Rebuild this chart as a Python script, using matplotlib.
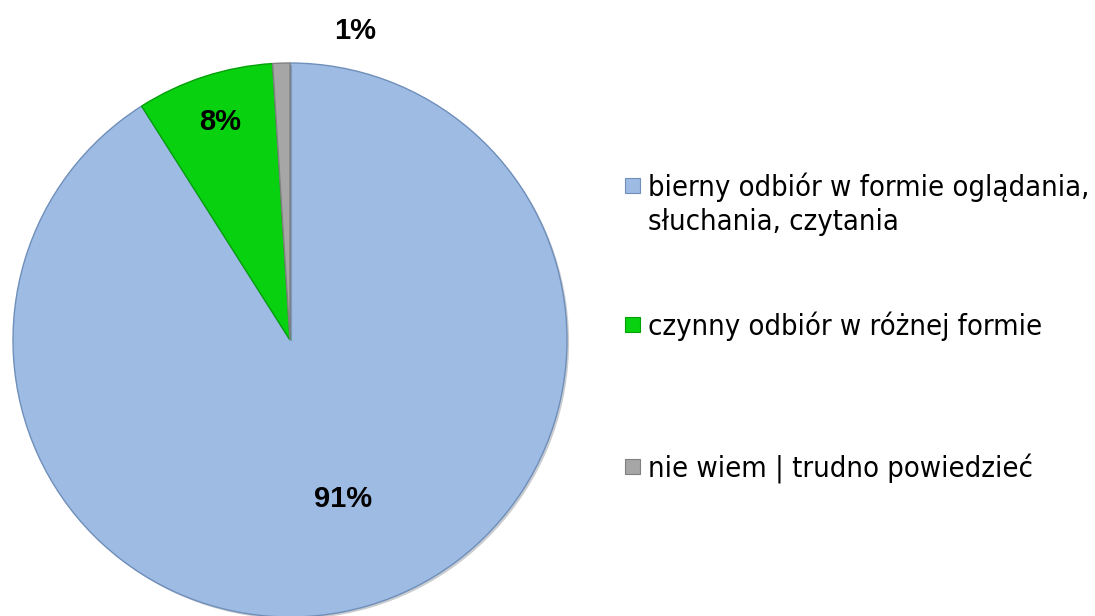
import matplotlib
matplotlib.use("Agg")
import matplotlib.pyplot as plt
import numpy as np
from matplotlib.patches import Rectangle
import matplotlib.patheffects as pe

# ---------------- data ----------------
categories = [
    "bierny odbiór w formie oglądania,\nsłuchania, czytania",
    "czynny odbiór w różnej formie",
    "nie wiem | trudno powiedzieć",
]
values = [91, 8, 1]
pct_labels = ["91%", "8%", "1%"]

# ---------------- style ----------------
colors = ["#9DBBE3", "#08D20F", "#A6A6A6"]
edge_colors = ["#6F8FBA", "#04A00A", "#808080"]
label_pos = [(0.604, 2.3), (0.826, -0.2), (1.14, -13.7)]  # (distance, angle shift)

W, H, DPI = 1095, 616, 100
fig = plt.figure(figsize=(W / DPI, H / DPI), dpi=DPI)
fig.patch.set_facecolor("white")

cx, cy, R = 290, 340, 277
ax = fig.add_axes([(cx - R) / W, (H - cy - R) / H, 2 * R / W, 2 * R / H])
wedges, _ = ax.pie(values, colors=colors, startangle=90, counterclock=False,
                   radius=1.0, wedgeprops=dict(linewidth=1.0))
for w, ec in zip(wedges, edge_colors):
    w.set_edgecolor(ec)
    w.set_path_effects([pe.SimplePatchShadow(offset=(1.5, -1.5), alpha=0.25),
                        pe.Normal()])
ax.set_xlim(-1, 1)
ax.set_ylim(-1, 1)
ax.set_aspect("equal")
ax.axis("off")

for w, lab, (dist, dang) in zip(wedges, pct_labels, label_pos):
    mid = np.deg2rad((w.theta1 + w.theta2) / 2 + dang)
    ax.text(dist * np.cos(mid), dist * np.sin(mid), lab, ha="center",
            va="center", fontsize=21, fontweight="bold",
            family="Liberation Sans", color="black", clip_on=False)

# ---------------- legend (manual) ----------------
leg_font = dict(family="DejaVu Sans", fontstretch="condensed", color="black")
# fit font size to the reference width of the first line
probe = fig.text(0, 0, categories[0].split("\n")[0], fontsize=20, **leg_font)
fig.canvas.draw()
wpx = probe.get_window_extent(fig.canvas.get_renderer()).width
probe.remove()
leg_size = 20 * 440.0 / wpx

baselines = [[196, 230], [335], [477]]
text_x = 648
for cat, col, ec, bls in zip(categories, colors, edge_colors, baselines):
    lines = cat.split("\n")
    for ln, by in zip(lines, bls):
        fig.text(text_x / W, 1 - by / H, ln, ha="left", va="baseline",
                 fontsize=leg_size, **leg_font)
    by0 = bls[0]
    fig.add_artist(Rectangle((625 / W, 1 - (by0 - 3) / H), 15 / W, 15 / H,
                             transform=fig.transFigure, facecolor=col,
                             edgecolor=ec, linewidth=0.8))

fig.savefig("out.png", dpi=DPI, facecolor="white")
